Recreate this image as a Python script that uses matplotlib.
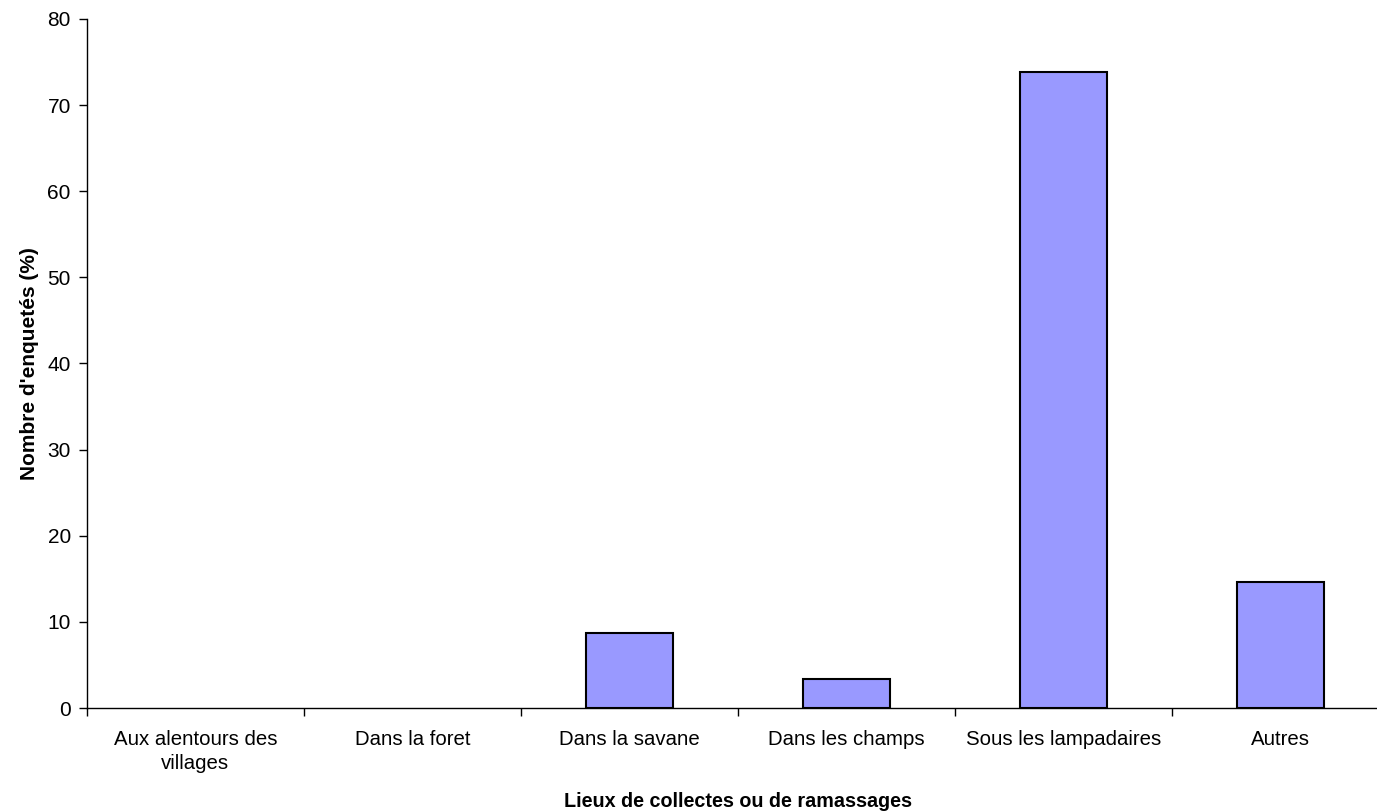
import numpy as np
import matplotlib
matplotlib.use("Agg")
import matplotlib.pyplot as plt
from matplotlib.ticker import FixedLocator

plt.rcParams['font.family'] = ['Liberation Sans', 'DejaVu Sans']

# Lieux de collecte et part des enquêtés (%)
lieux = ["Aux alentours des\nvillages", "Dans la foret", "Dans la savane",
         "Dans les champs", "Sous les lampadaires", "Autres"]
pourcentages = [0.0, 0.0, 8.7, 3.4, 73.8, 14.6]
y_ticks = [0, 10, 20, 30, 40, 50, 60, 70, 80]

fig = plt.figure(figsize=(13.77, 8.11), dpi=100)
# l'axe déborde un peu à droite, comme dans l'export d'origine
ax = fig.add_axes([0.063, 0.127, 0.9457, 0.8496])

x = np.arange(len(lieux))
largeurs_trait = [0 if v == 0 else 1.5 for v in pourcentages]
ax.bar(x, pourcentages, width=0.4, color="#9999ff", edgecolor="black",
       linewidth=largeurs_trait, zorder=3)

ax.set_xlim(-0.5, len(lieux) - 0.5)
ax.set_ylim(0, 80)
ax.set_yticks(y_ticks)

# étiquettes centrées, graduations aux limites des catégories
ax.set_xticks(x)
ax.set_xticklabels(lieux, fontsize=14.7, linespacing=1.3)
ax.xaxis.set_minor_locator(FixedLocator(np.arange(-0.5, len(lieux), 1.0)))
ax.tick_params(axis="x", which="major", length=0, pad=16)
ax.tick_params(axis="x", which="minor", length=6, width=1, direction="out")
ax.tick_params(axis="y", length=6, width=1, labelsize=15, pad=5.5)

for s in ["top", "right"]:
    ax.spines[s].set_visible(False)
for s in ["left", "bottom"]:
    ax.spines[s].set_linewidth(1)
    ax.spines[s].set_color("black")

ax.set_xlabel("Lieux de collectes ou de ramassages", fontsize=14.2,
              fontweight="bold", labelpad=14)
ax.set_ylabel("Nombre d'enquetés (%)", fontsize=15, fontweight="bold",
              labelpad=6)

fig.savefig("out.png", dpi=100)
